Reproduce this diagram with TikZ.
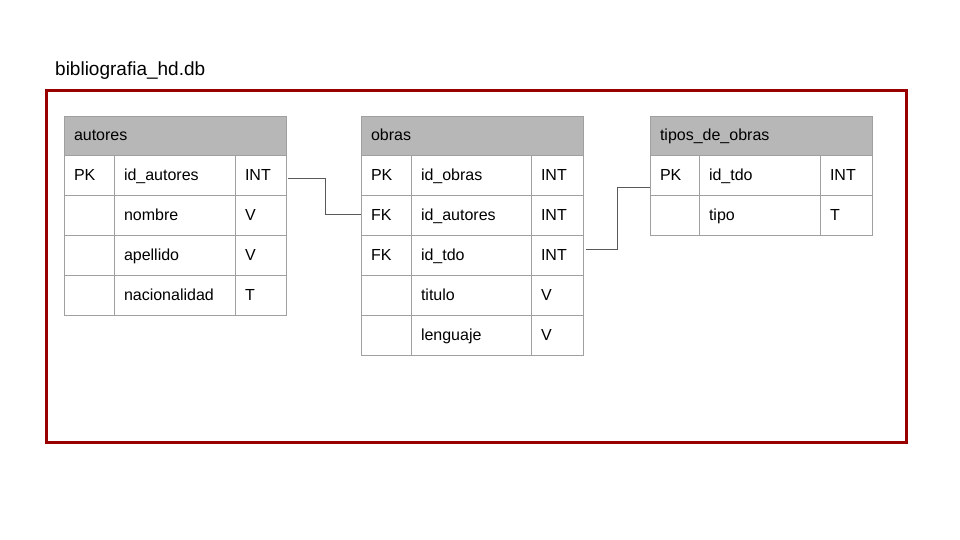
\documentclass[tikz,border=0pt]{standalone}
\usepackage{fontspec}
\setmainfont{Liberation Sans}
\definecolor{boxred}{RGB}{152,0,0}
\definecolor{hdrgray}{RGB}{183,183,183}
\definecolor{gridgray}{RGB}{160,160,160}
\definecolor{linkgray}{RGB}{89,89,89}
\begin{document}
\begin{tikzpicture}[x=1pt,y=-1pt,
  cell/.style={draw=gridgray, line width=0.8pt, rectangle, anchor=north west,
    minimum height=40pt, inner xsep=10pt, inner ysep=0pt, outer sep=0pt, align=left,
    font=\fontsize{16}{19}\selectfont, text height=13pt, text depth=2.5pt},
  hdr/.style={cell, fill=hdrgray, minimum height=39pt},
  link/.style={draw=linkgray, line width=0.9pt}]
\useasboundingbox (0,0) rectangle (960,540);

\node[draw=boxred, line width=3pt, minimum width=860pt, minimum height=352pt,
  anchor=north west, inner sep=0pt, outer sep=0pt] (frame) at (46.5,90.5) {};
\node[anchor=base west, inner sep=0pt, font=\fontsize{19}{22}\selectfont] (title) at (55,76) {bibliografia\_hd.db};

% autores
\node[hdr, text width=202pt] (a-h) at (64,116) {autores};
\node[cell, text width=30pt] (a-1k) at (64,155) {PK};
\node[cell, text width=101pt] (a-1n) at (114,155) {id\_autores};
\node[cell, text width=31pt] (a-1t) at (235,155) {INT};
\node[cell, text width=30pt] (a-2k) at (64,195) {};
\node[cell, text width=101pt] (a-2n) at (114,195) {nombre};
\node[cell, text width=31pt] (a-2t) at (235,195) {V};
\node[cell, text width=30pt] (a-3k) at (64,235) {};
\node[cell, text width=101pt] (a-3n) at (114,235) {apellido};
\node[cell, text width=31pt] (a-3t) at (235,235) {V};
\node[cell, text width=30pt] (a-4k) at (64,275) {};
\node[cell, text width=101pt] (a-4n) at (114,275) {nacionalidad};
\node[cell, text width=31pt] (a-4t) at (235,275) {T};

% obras
\node[hdr, text width=202pt] (o-h) at (361,116) {obras};
\node[cell, text width=30pt] (o-1k) at (361,155) {PK};
\node[cell, text width=100pt] (o-1n) at (411,155) {id\_obras};
\node[cell, text width=32pt] (o-1t) at (531,155) {INT};
\node[cell, text width=30pt] (o-2k) at (361,195) {FK};
\node[cell, text width=100pt] (o-2n) at (411,195) {id\_autores};
\node[cell, text width=32pt] (o-2t) at (531,195) {INT};
\node[cell, text width=30pt] (o-3k) at (361,235) {FK};
\node[cell, text width=100pt] (o-3n) at (411,235) {id\_tdo};
\node[cell, text width=32pt] (o-3t) at (531,235) {INT};
\node[cell, text width=30pt] (o-4k) at (361,275) {};
\node[cell, text width=100pt] (o-4n) at (411,275) {titulo};
\node[cell, text width=32pt] (o-4t) at (531,275) {V};
\node[cell, text width=30pt] (o-5k) at (361,315) {};
\node[cell, text width=100pt] (o-5n) at (411,315) {lenguaje};
\node[cell, text width=32pt] (o-5t) at (531,315) {V};

% tipos_de_obras
\node[hdr, text width=202pt] (t-h) at (650,116) {tipos\_de\_obras};
\node[cell, text width=29pt] (t-1k) at (650,155) {PK};
\node[cell, text width=101pt] (t-1n) at (699,155) {id\_tdo};
\node[cell, text width=32pt] (t-1t) at (820,155) {INT};
\node[cell, text width=29pt] (t-2k) at (650,195) {};
\node[cell, text width=101pt] (t-2n) at (699,195) {tipo};
\node[cell, text width=32pt] (t-2t) at (820,195) {T};

% connectors
\draw[link] ([shift={(2,3)}]a-1t.east) -- ++(37,0) |- ([shift={(0,-1)}]o-2k.west);
\draw[link] ([shift={(3,-6)}]o-3t.east) -- ++(31,0) |- ([shift={(0,12)}]t-1k.west);
\end{tikzpicture}
\end{document}
